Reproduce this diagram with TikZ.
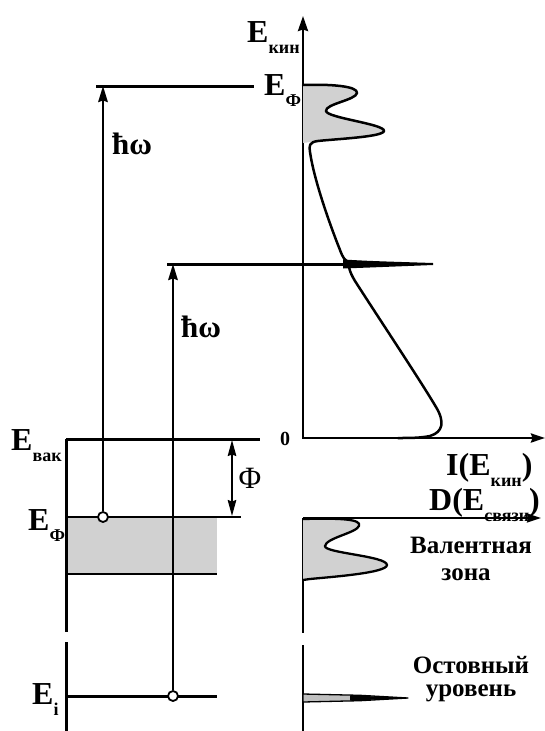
\documentclass[tikz,border=0pt]{standalone}
\usepackage{fontspec}
\setmainfont{Liberation Serif}
\usetikzlibrary{arrows.meta}
\newcommand{\lowsub}[1]{\raisebox{-0.36em}{\fontsize{18}{18}\selectfont #1}}
\begin{document}
\begin{tikzpicture}[x=1pt,y=-1pt,
  lab/.style={font=\fontsize{32}{32}\selectfont\bfseries, inner sep=0pt, anchor=base west},
  txt/.style={font=\fontsize{25}{27}\selectfont\bfseries, inner sep=0pt},
  hwlab/.style={font=\fontsize{31}{31}\selectfont\bfseries, inner sep=0pt},
  lvl/.style={line width=3pt},
  thinlvl/.style={line width=2.3pt},
  axisline/.style={line width=2.6pt},
  photon/.style={line width=2.1pt, -{Stealth[length=16pt,width=9.5pt,inset=1.5pt]}},
  hole/.style={circle, draw, fill=white, line width=1.8pt, minimum size=10pt, inner sep=0pt},
  curve/.style={line width=2.5pt, line join=round, line cap=round},
  band/.style={fill=black!18}
]
\useasboundingbox (0,0) rectangle (545,731);

% coordinates
\coordinate (top1) at (103,86);
\coordinate (top2) at (173,264);
\coordinate (vacL) at (66,439);
\coordinate (vacR) at (260,439);
\coordinate (phiT) at (232,440);
\coordinate (phiB) at (232,516);
\coordinate (axO) at (303,438);
\coordinate (axT) at (303,16);
\coordinate (axR) at (545,438);
\coordinate (dO) at (303,518);
\coordinate (dR) at (541,518);

% valence band
\fill[band] (66,517) rectangle (217,574);

% levels
\draw[lvl] (96,86) -- (254,86);
\draw[lvl] (167,264) -- (347,264);
\draw[lvl] (vacL) -- (vacR);
\draw[lvl] (vacL) -- (66,632);
\draw[lvl] (66,642) -- (66,731);
\draw[thinlvl] (66,517) -- (241,517);
\draw[thinlvl] (66,574) -- (217,574);
\draw[lvl] (66,696) -- (217,696);

% work function
\draw[line width=1.8pt, {Stealth[length=16pt,width=8.5pt,inset=1.5pt]}-{Stealth[length=16pt,width=8.5pt,inset=1.5pt]}] (phiT) -- (phiB);

% photoelectron spectrum axes
\draw[axisline, line join=miter, {Stealth[length=15pt,width=10pt,inset=1.5pt]}-{Stealth[length=14pt,width=9pt,inset=1.5pt]}] (axT) -- (axO) -- (axR);
\draw[line width=2.2pt, -{Stealth[length=14pt,width=9pt,inset=1.5pt]}] (dO) -- (dR);
\draw[axisline] (dO) -- (303,633);
\draw[axisline] (303,645) -- (303,731);

% top spectrum: valence band image
\fill[band] (303,85) .. controls (330,84) and (358,86) .. (357,93)
  .. controls (356,100) and (325,104) .. (326,111)
  .. controls (327,118) and (385,124) .. (384,131)
  .. controls (383,137) and (335,139) .. (318,141) -- (303,143) -- cycle;
\draw[curve] (303,85) .. controls (330,84) and (358,86) .. (357,93)
  .. controls (356,100) and (325,104) .. (326,111)
  .. controls (327,118) and (385,124) .. (384,131)
  .. controls (383,137) and (335,139) .. (318,141)
  .. controls (309,142) and (309,146) .. (310,152)
  .. controls (314,180) and (330,225) .. (340,250)
  .. controls (343,258) and (345,261) .. (349,262);
% core line peak
\fill (343,259.5) .. controls (370,261) .. (433,263) -- (433,265) .. controls (370,267.5) .. (343,268.5) -- cycle;
\draw[curve] (349,267) .. controls (350,272) and (352,276) .. (355,281)
  .. controls (380,320) and (420,380) .. (436,407)
  .. controls (445,422) and (443,432) .. (430,436)
  .. controls (420,438) and (410,438) .. (398,438);

% density of states
\filldraw[band, draw=black, line width=2.3pt, line join=round] (303,519) .. controls (340,518) and (362,519) .. (359,526)
  .. controls (356,533) and (326,538) .. (325,546)
  .. controls (324,553) and (387,556) .. (387,565)
  .. controls (387,573) and (330,577) .. (310,579) -- (303,580);
\filldraw[fill=black!25, line width=1.3pt, line join=round] (303,694) -- (360,695.3) -- (408,698) -- (360,700.7) -- (303,702) -- cycle;
\fill (350,695.3) -- (408,698) -- (350,700.7) -- cycle;

% photon arrows and holes
\node[hole] (hole1) at (103,517) {};
\node[hole] (hole2) at (173,696) {};
\draw[photon] (hole1) -- (top1);
\draw[photon] (hole2) -- (top2);

% labels
\node[lab] (ekin) at (247,42) {E\lowsub{кин}};
\node[lab] (efTop) at (264,95) {E\lowsub{Ф}};
\node[lab] (evak) at (11,450) {E\lowsub{вак}};
\node[lab] (efLeft) at (28,530) {E\lowsub{Ф}};
\node[lab] (ei) at (32,704) {E\lowsub{i}};
\node[lab] (iekin) at (446,475) {I(E\lowsub{кин})};
\node[lab] (dsv) at (429,510) {D(E\lowsub{связи})};
\node[font=\fontsize{20}{20}\selectfont\bfseries, inner sep=0pt] (zero) at (285,439) {0};
\node[hwlab] (hw1) at (132,144) {ħω};
\node[hwlab] (hw2) at (201,327) {ħω};
\node[font=\fontsize{31}{31}\selectfont, inner sep=0pt] (phi) at (250,478) {Φ};
\node[txt] (val1) at (471,545) {Валентная};
\node[txt] (val2) at (466,575) {зона};
\node[txt] (core1) at (471,665) {Остовный};
\node[txt] (core2) at (471,693) {уровень};
\end{tikzpicture}
\end{document}
